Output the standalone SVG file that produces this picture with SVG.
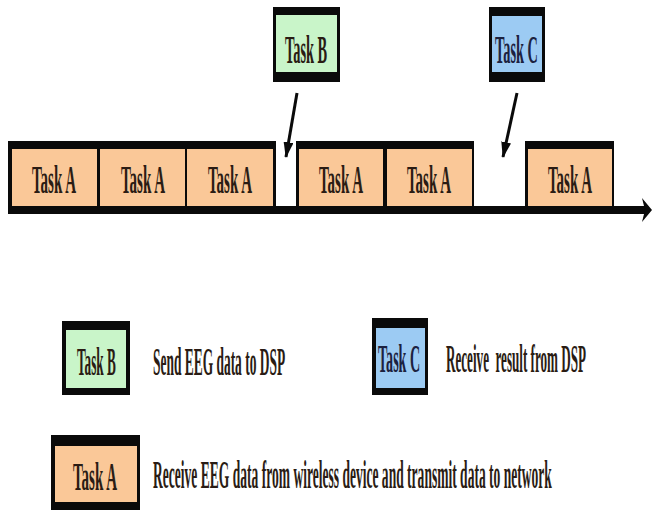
<svg xmlns="http://www.w3.org/2000/svg" width="652" height="510" viewBox="0 0 652 510">
<style>
.bk{fill:#0a0a0a}
.a{fill:#FAC898}
.b{fill:#C9F5C9}
.c{fill:#9CCBF3}
.t{font-family:"Liberation Serif","Times New Roman",serif;font-size:40px;font-weight:bold;fill:#2a1c14}
.tc{fill:#1c2240}
.ln{stroke:#0a0a0a;stroke-width:3;fill:none}
</style>
<defs>
<marker id="ah" viewBox="0 0 16 10" markerWidth="16" markerHeight="10" refX="15" refY="5" orient="auto" markerUnits="userSpaceOnUse">
<path d="M0,0 L16,5 L0,10 z" fill="#0a0a0a"/>
</marker>
</defs>
<rect width="652" height="510" fill="#ffffff"/>

<g id="connectors">
<rect class="bk" x="8" y="206" width="637" height="8"/>
<polygon class="bk" points="642,198 652,210 642,222 645,210"/>
<line class="ln" x1="297" y1="93" x2="286" y2="157" marker-end="url(#ah)"/>
<line class="ln" x1="517" y1="93" x2="503" y2="157" marker-end="url(#ah)"/>
</g>

<g id="group1">
<rect class="bk" x="8" y="141" width="268" height="73"/>
<g id="taskA1"><rect class="a" x="12" y="149" width="85" height="57"/><text class="t" transform="translate(32,193) scale(0.37,1)" textLength="119" lengthAdjust="spacingAndGlyphs">Task A</text></g>
<g id="taskA2"><rect class="a" x="100" y="149" width="85" height="57"/><text class="t" transform="translate(121,193) scale(0.37,1)" textLength="119" lengthAdjust="spacingAndGlyphs">Task A</text></g>
<g id="taskA3"><rect class="a" x="187" y="149" width="86" height="57"/><text class="t" transform="translate(208,193) scale(0.37,1)" textLength="119" lengthAdjust="spacingAndGlyphs">Task A</text></g>
</g>

<g id="group2">
<rect class="bk" x="296" y="141" width="178" height="73"/>
<g id="taskA4"><rect class="a" x="299" y="149" width="84" height="57"/><text class="t" transform="translate(319,193) scale(0.37,1)" textLength="119" lengthAdjust="spacingAndGlyphs">Task A</text></g>
<g id="taskA5"><rect class="a" x="387" y="149" width="85" height="57"/><text class="t" transform="translate(407,193) scale(0.37,1)" textLength="119" lengthAdjust="spacingAndGlyphs">Task A</text></g>
</g>

<g id="group3">
<rect class="bk" x="525" y="141" width="89" height="73"/>
<g id="taskA6"><rect class="a" x="528" y="149" width="84" height="57"/><text class="t" transform="translate(548,193) scale(0.37,1)" textLength="119" lengthAdjust="spacingAndGlyphs">Task A</text></g>
</g>

<g id="taskB">
<rect class="bk" x="273" y="7" width="67" height="75"/>
<rect class="b" x="276" y="15" width="61" height="57"/>
<text class="t" transform="translate(285,63) scale(0.37,1)" textLength="114" lengthAdjust="spacingAndGlyphs">Task B</text>
</g>

<g id="taskC">
<rect class="bk" x="489" y="7" width="56" height="75"/>
<rect class="c" x="492" y="16" width="50" height="56"/>
<text class="t tc" transform="translate(495,63) scale(0.37,1)" textLength="116" lengthAdjust="spacingAndGlyphs">Task C</text>
</g>

<g id="legendB">
<rect class="bk" x="62" y="321" width="68" height="74"/>
<rect class="b" x="66" y="330" width="60" height="58"/>
<text class="t" transform="translate(77,375) scale(0.35,1)" textLength="111" lengthAdjust="spacingAndGlyphs">Task B</text>
<text class="t" transform="translate(153,375) scale(0.36,1)" textLength="367" lengthAdjust="spacingAndGlyphs">Send EEG data to DSP</text>
</g>

<g id="legendC">
<rect class="bk" x="372" y="318" width="56" height="77"/>
<rect class="c" x="376" y="328" width="49" height="60"/>
<text class="t tc" transform="translate(378,372) scale(0.36,1)" textLength="117" lengthAdjust="spacingAndGlyphs">Task C</text>
<text class="t" transform="translate(446,372) scale(0.34,1)" textLength="412" lengthAdjust="spacingAndGlyphs" xml:space="preserve">Receive  result from DSP</text>
</g>

<g id="legendA">
<rect class="bk" x="51" y="435" width="89" height="75"/>
<rect class="a" x="55" y="446" width="82" height="56"/>
<text class="t" transform="translate(73,490) scale(0.37,1)" textLength="119" lengthAdjust="spacingAndGlyphs">Task A</text>
<text class="t" transform="translate(153,488) scale(0.36,1)" textLength="1108" lengthAdjust="spacingAndGlyphs">Receive EEG data from wireless device and transmit data to network</text>
</g>
</svg>
